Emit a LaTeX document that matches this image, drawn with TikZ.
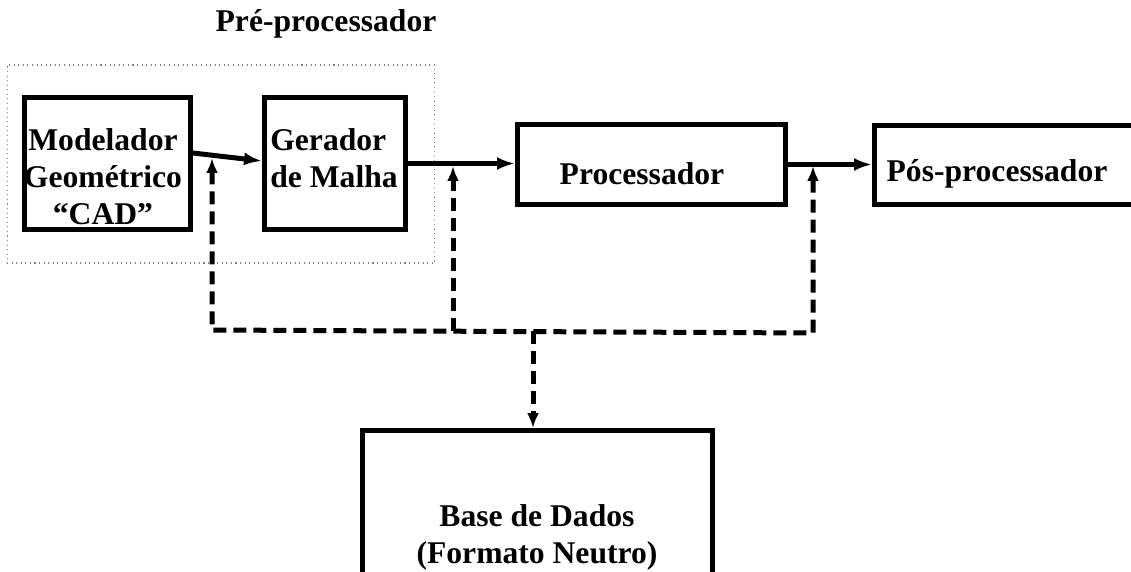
\documentclass[tikz,border=0pt]{standalone}
\usepackage{fontspec}
\setmainfont{Liberation Serif}
\usetikzlibrary{positioning,arrows.meta}
\tikzset{
  blk/.style={draw, line width=0.1cm, inner sep=0pt},
  txt/.style={font=\fontsize{18}{21}\selectfont\bfseries, inner sep=0pt},
  flow/.style={line width=0.1cm, -{Latex[length=0.36cm,width=0.26cm]}},
  bus/.style={line width=0.1cm, dash pattern=on 0.26cm off 0.14cm},
}

\begin{document}
\begin{tikzpicture}[x=0.02cm, y=-0.02cm, >={Latex[length=0.3cm,width=0.24cm]}]
\useasboundingbox (0,0) rectangle (1131,571);
% pre-processador frame
\node[draw=gray, dotted, line width=0.6pt, minimum width=8.56cm, minimum height=3.96cm] (pre) at (221,164) {};
\node[txt] (pre-t) at (326,24) {Pré-processador};
% blocks
\node[blk, minimum width=3.32cm, minimum height=2.64cm] (mod) at (107.5,163.5) {};
\node[blk, minimum width=2.82cm, minimum height=2.64cm] (ger) at (335,163.5) {};
\node[blk, minimum width=5.36cm, minimum height=1.60cm] (proc) at (651.5,164.5) {};
\node[blk, minimum width=5.36cm, minimum height=1.58cm] (pos) at (1008.5,165) {};
\node[blk, minimum width=7.0cm, minimum height=4.38cm] (base) at (537.5,540) {};
% texts
\node[txt, align=center] (mod-t) at (103,177) {Modelador\\Geométrico\\“CAD”};
\node[txt, align=left] (ger-t) at (334,158) {Gerador\\de Malha};
\node[txt] (proc-t) at (642,174) {Processador};
\node[txt] (pos-t) at (997,174) {Pós-processador};
\node[txt, align=center] (base-t) at (537,537) {Base de Dados\\(Formato Neutro)};
% main flow
\draw[flow] ([yshift=0.21cm]mod.east) -- ([yshift=0.05cm]ger.west);
\draw[flow] (ger.east) -- (ger.east -| proc.west);
\draw[flow] (proc.east) -- (proc.east -| pos.west);
% data links
\coordinate (t1) at (212,158);
\coordinate (t2) at (453,166);
\coordinate (t3) at (813,166);
\coordinate (b1) at (212,330);
\coordinate (b2) at (453,331);
\coordinate (b3) at (813,333);
\coordinate (b0) at (533,331);
\draw[bus, <->] (t1) -- (b1) -- (b3) -- (t3);
\draw[bus, ->] (b2) -- (t2);
\draw[bus, ->] (b0) -- (b0 |- base.north);
\end{tikzpicture}
\end{document}
